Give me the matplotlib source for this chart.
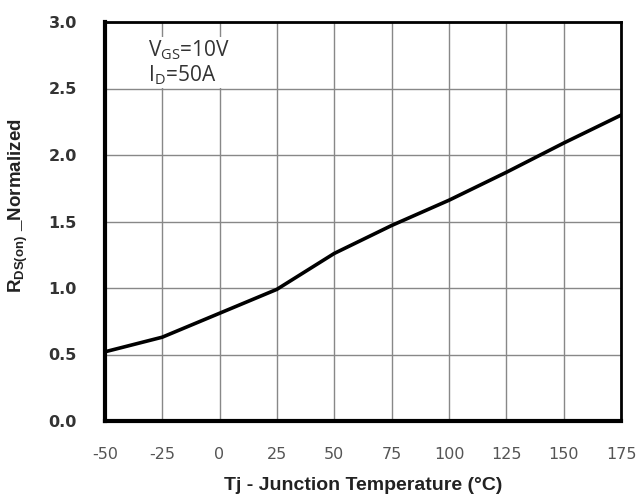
import matplotlib
matplotlib.use("Agg")
import matplotlib.pyplot as plt

plt.rcParams['font.family'] = ['Liberation Sans', 'DejaVu Sans']

# normalized on-resistance vs junction temperature
tj = [-50, -25, 0, 25, 50, 75, 100, 125, 150, 175]
rds_norm = [0.52, 0.63, 0.81, 0.99, 1.26, 1.47, 1.66, 1.87, 2.09, 2.30]

xticks = [-50, -25, 0, 25, 50, 75, 100, 125, 150, 175]
yticks = [0.0, 0.5, 1.0, 1.5, 2.0, 2.5, 3.0]

fig = plt.figure(figsize=(6.39, 5.0), dpi=100)
ax = fig.add_axes([0.164, 0.158, 0.808, 0.798])

ax.plot(tj, rds_norm, color='black', lw=2.6, zorder=3)

ax.set_xlim(-50, 175)
ax.set_ylim(0, 3.0)
ax.set_xticks(xticks)
ax.set_yticks(yticks)
ax.set_yticklabels([f"{v:.1f}" for v in yticks], fontweight='bold', color='#333333',
                   fontsize=11.5, family='DejaVu Sans')
ax.set_xticklabels([str(v) for v in xticks], color='#555555', fontsize=11.5, family='DejaVu Sans')
ax.tick_params(axis='x', length=0, pad=19)
ax.tick_params(axis='y', length=0, pad=20)

ax.grid(True, color='#888888', lw=1.0)
ax.set_axisbelow(True)
for side in ['left', 'bottom']:
    ax.spines[side].set_linewidth(3)
for side in ['top', 'right']:
    ax.spines[side].set_linewidth(2)

ax.set_xlabel("Tj - Junction Temperature (°C)", fontweight='bold', fontsize=14, color='#222222')
ax.xaxis.set_label_coords(0.5, -0.14)
ax.set_ylabel("R$_{\\mathregular{DS(on)}}$ _Normalized", fontweight='bold', fontsize=13.5, color='#222222')
ax.yaxis.set_label_coords(-0.145, 0.54)

ax.text(-31, 2.88, "V$_{\\mathregular{GS}}$=10V\nI$_{\\mathregular{D}}$=50A", fontsize=15, color='#333333',
        family='Open Sans', va='top', ha='left', linespacing=1.1,
        bbox=dict(facecolor='white', edgecolor='none', pad=1))

fig.savefig("out.png", dpi=100)
